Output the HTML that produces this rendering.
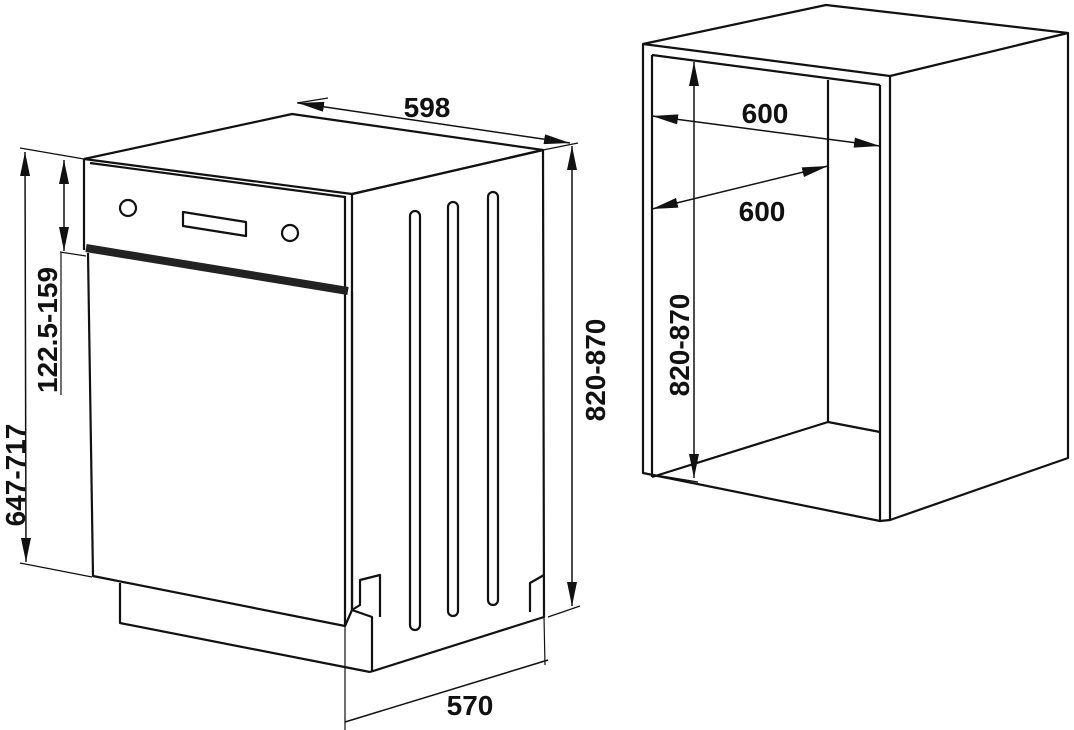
<!DOCTYPE html>
<html><head><style>body{margin:0;background:#fff}svg{display:block}text{font-family:"Liberation Sans",sans-serif;font-weight:bold;fill:#111}</style></head>
<body>
<svg width="1074" height="730" viewBox="0 0 1074 730" xmlns="http://www.w3.org/2000/svg">
<defs>
<marker id="a" viewBox="0 0 10 10" refX="10" refY="5" markerWidth="24" markerHeight="10" markerUnits="userSpaceOnUse" preserveAspectRatio="none" orient="auto-start-reverse"><path d="M0,0 L10,5 L0,10z" fill="#111"/></marker>
<marker id="b" viewBox="0 0 10 10" refX="10" refY="5" markerWidth="26" markerHeight="10" markerUnits="userSpaceOnUse" preserveAspectRatio="none" orient="auto-start-reverse"><path d="M0,0 L10,5 L0,10z" fill="#111"/></marker>
</defs>
<g fill="none" stroke="#111" stroke-width="2.2" stroke-linejoin="round">
<path d="M84,159 L292,114 L543,150 L352,194"/>
<path d="M84,159 L352,194 M90,163 L345,197"/>
<path d="M84,159 L84,250 M88,253 L93,576 L345,626 L345,292"/>
<path d="M345,196 L345,292 M352,194 L352,292 M352,292 L352,610 L345,626"/>
<path d="M86,248 L348,291" stroke-width="8" stroke="#222"/>
<circle cx="128" cy="208" r="8"/><circle cx="290" cy="233" r="8"/>
<path d="M183,212 L246,222 L246,236 L183,226z"/>
<path d="M352,194 L543,150 L544,617 L370,672"/>
<path d="M352,292 L352,610 L372,617 L372,672 M352,610 L360,605 L360,580 L380,575 L380,617"/>
<path d="M544,575 L530,583 L530,612"/>
<path d="M120,583 L120,623 L370,672"/>
<path d="M410,625 L410,216 A5,5 0 0 1 420,216 L420,625 A5,5 0 0 1 410,625z"/>
<path d="M448,611 L448,207 A5,5 0 0 1 458,207 L458,611 A5,5 0 0 1 448,611z"/>
<path d="M488,600 L488,197 A5,5 0 0 1 498,197 L498,600 A5,5 0 0 1 488,600z"/>
</g>
<g fill="none" stroke="#111" stroke-width="1.2">
<path d="M20,148 L84,159 M20,563 L92,577 M60,252 L86,256 M297,103 L328,98 M543,150 L578,143 M548,617 L580,606 M345,626 L345,730 M544,617 L545,665"/>
<path d="M25,152 L26,562" marker-start="url(#a)" marker-end="url(#a)" stroke-width="1.5"/>
<path d="M64,160 L64,251" marker-start="url(#a)" marker-end="url(#a)" stroke-width="1.5"/>
<path d="M61,252 L61,395" stroke-width="1.2"/>
<path d="M572,146 L572,606" marker-start="url(#a)" marker-end="url(#a)" stroke-width="1.5"/>
<path d="M298,103 L570,143" marker-start="url(#b)" marker-end="url(#b)" stroke-width="1.5"/>
<path d="M345,722 L548,660" stroke-width="1.5"/>
</g>
<text x="427" y="117" font-size="28" text-anchor="middle">598</text>
<text x="470" y="715" font-size="28" text-anchor="middle">570</text>
<text transform="translate(25,475) rotate(-90)" font-size="28" text-anchor="middle">647-717</text>
<text transform="translate(57,330) rotate(-90)" font-size="28" text-anchor="middle">122.5-159</text>
<text transform="translate(605,370) rotate(-90)" font-size="28" text-anchor="middle">820-870</text>
<g fill="none" stroke="#111" stroke-width="2.2" stroke-linejoin="round">
<path d="M643,44 L826,5 L1068,33 L890,76 L643,44z"/>
<path d="M643,44 L643,473 L880,521 L890,520 L1068,458 L1068,33"/>
<path d="M890,76 L890,520 M880,85 L880,521"/>
<path d="M652,55 L880,85 M652,55 L652,477"/>
<path d="M828,80 L828,422 M652,477 L828,422 L880,432"/>
</g>
<g fill="none" stroke="#111" stroke-width="1.5">
<path d="M694,62 L694,478" marker-start="url(#a)" marker-end="url(#a)"/>
<path d="M643,473 L698,482" stroke-width="1.2"/>
<path d="M652,116 L880,146" marker-start="url(#b)" marker-end="url(#b)"/>
<path d="M652,209 L828,166" marker-start="url(#b)" marker-end="url(#b)"/>
</g>
<text x="765" y="123" font-size="28" text-anchor="middle">600</text>
<text x="762" y="221" font-size="28" text-anchor="middle">600</text>
<text transform="translate(689,345) rotate(-90)" font-size="28" text-anchor="middle">820-870</text>
</svg>
</body></html>
